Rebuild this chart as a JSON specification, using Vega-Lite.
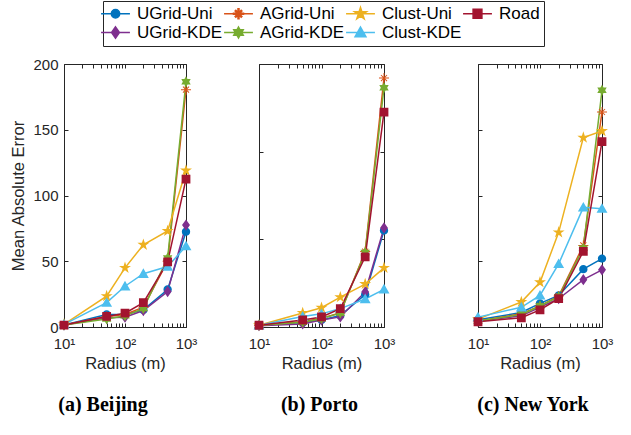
{
  "$schema": "https://vega.github.io/schema/vega-lite/v6.json",
  "padding": {"left": 10, "top": 0, "right": 5, "bottom": 5},
  "datasets": {
    "d": [
      {"city": "Beijing", "method": "UGrid-Uni", "radius": 10, "mae": 1.5},
      {"city": "Beijing", "method": "UGrid-Uni", "radius": 50, "mae": 9.5},
      {"city": "Beijing", "method": "UGrid-Uni", "radius": 100, "mae": 9.5},
      {"city": "Beijing", "method": "UGrid-Uni", "radius": 200, "mae": 13},
      {"city": "Beijing", "method": "UGrid-Uni", "radius": 500, "mae": 28.5},
      {"city": "Beijing", "method": "UGrid-Uni", "radius": 1000, "mae": 72.5},
      {"city": "Beijing", "method": "UGrid-KDE", "radius": 10, "mae": 1.5},
      {"city": "Beijing", "method": "UGrid-KDE", "radius": 50, "mae": 7},
      {"city": "Beijing", "method": "UGrid-KDE", "radius": 100, "mae": 7.5},
      {"city": "Beijing", "method": "UGrid-KDE", "radius": 200, "mae": 12.5},
      {"city": "Beijing", "method": "UGrid-KDE", "radius": 500, "mae": 27},
      {"city": "Beijing", "method": "UGrid-KDE", "radius": 1000, "mae": 77.5},
      {"city": "Beijing", "method": "AGrid-Uni", "radius": 10, "mae": 1.5},
      {"city": "Beijing", "method": "AGrid-Uni", "radius": 50, "mae": 8},
      {"city": "Beijing", "method": "AGrid-Uni", "radius": 100, "mae": 9.5},
      {"city": "Beijing", "method": "AGrid-Uni", "radius": 200, "mae": 15},
      {"city": "Beijing", "method": "AGrid-Uni", "radius": 500, "mae": 50},
      {"city": "Beijing", "method": "AGrid-Uni", "radius": 1000, "mae": 180.5},
      {"city": "Beijing", "method": "AGrid-KDE", "radius": 10, "mae": 1.5},
      {"city": "Beijing", "method": "AGrid-KDE", "radius": 50, "mae": 6},
      {"city": "Beijing", "method": "AGrid-KDE", "radius": 100, "mae": 8.5},
      {"city": "Beijing", "method": "AGrid-KDE", "radius": 200, "mae": 14},
      {"city": "Beijing", "method": "AGrid-KDE", "radius": 500, "mae": 52.5},
      {"city": "Beijing", "method": "AGrid-KDE", "radius": 1000, "mae": 186.5},
      {"city": "Beijing", "method": "Clust-Uni", "radius": 10, "mae": 2},
      {"city": "Beijing", "method": "Clust-Uni", "radius": 50, "mae": 23.5},
      {"city": "Beijing", "method": "Clust-Uni", "radius": 100, "mae": 45},
      {"city": "Beijing", "method": "Clust-Uni", "radius": 200, "mae": 62.5},
      {"city": "Beijing", "method": "Clust-Uni", "radius": 500, "mae": 73},
      {"city": "Beijing", "method": "Clust-Uni", "radius": 1000, "mae": 119},
      {"city": "Beijing", "method": "Clust-KDE", "radius": 10, "mae": 2},
      {"city": "Beijing", "method": "Clust-KDE", "radius": 50, "mae": 18.5},
      {"city": "Beijing", "method": "Clust-KDE", "radius": 100, "mae": 31},
      {"city": "Beijing", "method": "Clust-KDE", "radius": 200, "mae": 40.5},
      {"city": "Beijing", "method": "Clust-KDE", "radius": 500, "mae": 46},
      {"city": "Beijing", "method": "Clust-KDE", "radius": 1000, "mae": 61.5},
      {"city": "Beijing", "method": "Road", "radius": 10, "mae": 1.5},
      {"city": "Beijing", "method": "Road", "radius": 50, "mae": 8},
      {"city": "Beijing", "method": "Road", "radius": 100, "mae": 10.5},
      {"city": "Beijing", "method": "Road", "radius": 200, "mae": 18.5},
      {"city": "Beijing", "method": "Road", "radius": 500, "mae": 49.5},
      {"city": "Beijing", "method": "Road", "radius": 1000, "mae": 112.5},

      {"city": "Porto", "method": "UGrid-Uni", "radius": 10, "mae": 2},
      {"city": "Porto", "method": "UGrid-Uni", "radius": 50, "mae": 5},
      {"city": "Porto", "method": "UGrid-Uni", "radius": 100, "mae": 8},
      {"city": "Porto", "method": "UGrid-Uni", "radius": 200, "mae": 13},
      {"city": "Porto", "method": "UGrid-Uni", "radius": 500, "mae": 37},
      {"city": "Porto", "method": "UGrid-Uni", "radius": 1000, "mae": 110},
      {"city": "Porto", "method": "UGrid-KDE", "radius": 10, "mae": 1.5},
      {"city": "Porto", "method": "UGrid-KDE", "radius": 50, "mae": 3.5},
      {"city": "Porto", "method": "UGrid-KDE", "radius": 100, "mae": 8},
      {"city": "Porto", "method": "UGrid-KDE", "radius": 200, "mae": 11.5},
      {"city": "Porto", "method": "UGrid-KDE", "radius": 500, "mae": 40},
      {"city": "Porto", "method": "UGrid-KDE", "radius": 1000, "mae": 113},
      {"city": "Porto", "method": "AGrid-Uni", "radius": 10, "mae": 2},
      {"city": "Porto", "method": "AGrid-Uni", "radius": 50, "mae": 6},
      {"city": "Porto", "method": "AGrid-Uni", "radius": 100, "mae": 10},
      {"city": "Porto", "method": "AGrid-Uni", "radius": 200, "mae": 16},
      {"city": "Porto", "method": "AGrid-Uni", "radius": 500, "mae": 86},
      {"city": "Porto", "method": "AGrid-Uni", "radius": 1000, "mae": 284},
      {"city": "Porto", "method": "AGrid-KDE", "radius": 10, "mae": 2},
      {"city": "Porto", "method": "AGrid-KDE", "radius": 50, "mae": 5.5},
      {"city": "Porto", "method": "AGrid-KDE", "radius": 100, "mae": 9.5},
      {"city": "Porto", "method": "AGrid-KDE", "radius": 200, "mae": 16},
      {"city": "Porto", "method": "AGrid-KDE", "radius": 500, "mae": 85},
      {"city": "Porto", "method": "AGrid-KDE", "radius": 1000, "mae": 273},
      {"city": "Porto", "method": "Clust-Uni", "radius": 10, "mae": 2},
      {"city": "Porto", "method": "Clust-Uni", "radius": 50, "mae": 16},
      {"city": "Porto", "method": "Clust-Uni", "radius": 100, "mae": 22},
      {"city": "Porto", "method": "Clust-Uni", "radius": 200, "mae": 34},
      {"city": "Porto", "method": "Clust-Uni", "radius": 500, "mae": 49},
      {"city": "Porto", "method": "Clust-Uni", "radius": 1000, "mae": 67.5},
      {"city": "Porto", "method": "Clust-KDE", "radius": 10, "mae": 2},
      {"city": "Porto", "method": "Clust-KDE", "radius": 50, "mae": 12},
      {"city": "Porto", "method": "Clust-KDE", "radius": 100, "mae": 15},
      {"city": "Porto", "method": "Clust-KDE", "radius": 200, "mae": 21},
      {"city": "Porto", "method": "Clust-KDE", "radius": 500, "mae": 32},
      {"city": "Porto", "method": "Clust-KDE", "radius": 1000, "mae": 43},
      {"city": "Porto", "method": "Road", "radius": 10, "mae": 2},
      {"city": "Porto", "method": "Road", "radius": 50, "mae": 8},
      {"city": "Porto", "method": "Road", "radius": 100, "mae": 11.5},
      {"city": "Porto", "method": "Road", "radius": 200, "mae": 21},
      {"city": "Porto", "method": "Road", "radius": 500, "mae": 80},
      {"city": "Porto", "method": "Road", "radius": 1000, "mae": 245},

      {"city": "New York", "method": "UGrid-Uni", "radius": 10, "mae": 5.5},
      {"city": "New York", "method": "UGrid-Uni", "radius": 50, "mae": 11},
      {"city": "New York", "method": "UGrid-Uni", "radius": 100, "mae": 18},
      {"city": "New York", "method": "UGrid-Uni", "radius": 200, "mae": 24},
      {"city": "New York", "method": "UGrid-Uni", "radius": 500, "mae": 44},
      {"city": "New York", "method": "UGrid-Uni", "radius": 1000, "mae": 52},
      {"city": "New York", "method": "UGrid-KDE", "radius": 10, "mae": 4.5},
      {"city": "New York", "method": "UGrid-KDE", "radius": 50, "mae": 8.5},
      {"city": "New York", "method": "UGrid-KDE", "radius": 100, "mae": 15},
      {"city": "New York", "method": "UGrid-KDE", "radius": 200, "mae": 21.5},
      {"city": "New York", "method": "UGrid-KDE", "radius": 500, "mae": 36},
      {"city": "New York", "method": "UGrid-KDE", "radius": 1000, "mae": 43.5},
      {"city": "New York", "method": "AGrid-Uni", "radius": 10, "mae": 4.5},
      {"city": "New York", "method": "AGrid-Uni", "radius": 50, "mae": 10},
      {"city": "New York", "method": "AGrid-Uni", "radius": 100, "mae": 16},
      {"city": "New York", "method": "AGrid-Uni", "radius": 200, "mae": 23.5},
      {"city": "New York", "method": "AGrid-Uni", "radius": 500, "mae": 62},
      {"city": "New York", "method": "AGrid-Uni", "radius": 1000, "mae": 163.5},
      {"city": "New York", "method": "AGrid-KDE", "radius": 10, "mae": 4.5},
      {"city": "New York", "method": "AGrid-KDE", "radius": 50, "mae": 9.5},
      {"city": "New York", "method": "AGrid-KDE", "radius": 100, "mae": 16},
      {"city": "New York", "method": "AGrid-KDE", "radius": 200, "mae": 23},
      {"city": "New York", "method": "AGrid-KDE", "radius": 500, "mae": 60},
      {"city": "New York", "method": "AGrid-KDE", "radius": 1000, "mae": 180},
      {"city": "New York", "method": "Clust-Uni", "radius": 10, "mae": 6},
      {"city": "New York", "method": "Clust-Uni", "radius": 50, "mae": 19},
      {"city": "New York", "method": "Clust-Uni", "radius": 100, "mae": 34},
      {"city": "New York", "method": "Clust-Uni", "radius": 200, "mae": 72},
      {"city": "New York", "method": "Clust-Uni", "radius": 500, "mae": 144},
      {"city": "New York", "method": "Clust-Uni", "radius": 1000, "mae": 149},
      {"city": "New York", "method": "Clust-KDE", "radius": 10, "mae": 7.5},
      {"city": "New York", "method": "Clust-KDE", "radius": 50, "mae": 15},
      {"city": "New York", "method": "Clust-KDE", "radius": 100, "mae": 24},
      {"city": "New York", "method": "Clust-KDE", "radius": 200, "mae": 48},
      {"city": "New York", "method": "Clust-KDE", "radius": 500, "mae": 91},
      {"city": "New York", "method": "Clust-KDE", "radius": 1000, "mae": 90},
      {"city": "New York", "method": "Road", "radius": 10, "mae": 4},
      {"city": "New York", "method": "Road", "radius": 50, "mae": 7},
      {"city": "New York", "method": "Road", "radius": 100, "mae": 13},
      {"city": "New York", "method": "Road", "radius": 200, "mae": 21.5},
      {"city": "New York", "method": "Road", "radius": 500, "mae": 57.5},
      {"city": "New York", "method": "Road", "radius": 1000, "mae": 141}
    ]
  },
  "config": {
    "font": "Liberation Sans",
    "view": {"stroke": "#262626", "strokeWidth": 1},
    "axis": {
      "domain": false, "grid": false, "tickColor": "#262626", "tickSize": -4, "tickWidth": 1,
      "labelColor": "#262626", "labelFont": "Liberation Sans", "labelFontSize": 15,
      "titleFont": "Liberation Sans", "titleFontSize": 16.5, "titleFontWeight": "normal", "titleColor": "#262626"
    },
    "title": {"font": "Liberation Serif", "fontSize": 20, "fontWeight": "bold", "color": "black", "orient": "bottom", "offset": 23}
  },
  "hconcat": [
    {
      "hconcat": [
        {
          "width": 122, "height": 263,
          "title": {"text": "(a) Beijing", "dx": -22},
          "data": {"name": "d"},
          "transform": [{"filter": "datum.city === 'Beijing'"}],
          "layer": [
            {
              "mark": {"type": "line", "strokeWidth": 1.5},
              "encoding": {
                "x": {"field": "radius", "type": "quantitative", "scale": {"type": "log", "domain": [10, 1000]},
                      "axis": {"orient": "bottom", "title": "Radius (m)", "values": [10,20,30,40,50,60,70,80,90,100,200,300,400,500,600,700,800,900,1000],
                               "labelExpr": "datum.value === 10 ? '10¹' : datum.value === 100 ? '10²' : datum.value === 1000 ? '10³' : ''",
                               "labelFlush": false, "labelOverlap": false, "labelPadding": 13, "titlePadding": 4}},
                "y": {"field": "mae", "type": "quantitative", "scale": {"domain": [0, 200]},
                      "axis": {"orient": "left", "title": "Mean Absolute Error", "values": [0, 50, 100, 150, 200], "labelPadding": 10, "titlePadding": 6}},
                "color": {"field": "method", "type": "nominal",
                          "scale": {"domain": ["UGrid-Uni", "AGrid-Uni", "Clust-Uni", "Road", "UGrid-KDE", "AGrid-KDE", "Clust-KDE"],
                                    "range": ["#0072BD", "#D95319", "#EDB120", "#A2142F", "#7E2F8E", "#77AC30", "#4DBEEE"]},
                          "legend": {"title": null, "orient": "none", "legendX": 39, "legendY": -63, "direction": "horizontal", "columns": 4,
                                     "columnPadding": -2, "rowPadding": 1, "padding": 4, "strokeColor": "#262626", "fillColor": "white",
                                     "labelFont": "Liberation Sans", "labelFontSize": 17, "labelColor": "black", "labelOffset": 13,
                                     "symbolSize": 70, "symbolStrokeWidth": 1.5, "symbolOpacity": 1, "gridAlign": "each"}}
              }
            },
            {
              "mark": {"type": "point", "filled": true, "size": 70, "opacity": 1, "strokeWidth": 0},
              "encoding": {
                "x": {"field": "radius", "type": "quantitative", "scale": {"type": "log", "domain": [10, 1000]}, "axis": null},
                "y": {"field": "mae", "type": "quantitative", "scale": {"domain": [0, 200]}, "axis": null},
                "color": {"field": "method", "type": "nominal",
                          "legend": {"title": null, "orient": "none", "legendX": 39, "legendY": -63, "direction": "horizontal", "columns": 4,
                                     "columnPadding": -2, "rowPadding": 1, "padding": 4, "strokeColor": "#262626", "fillColor": "white",
                                     "labelFont": "Liberation Sans", "labelFontSize": 17, "labelColor": "black", "labelOffset": 13,
                                     "symbolSize": 70, "symbolStrokeWidth": 1.5, "symbolOpacity": 1, "gridAlign": "each"}},
                "stroke": {"field": "method", "type": "nominal",
                           "scale": {"domain": ["UGrid-Uni", "AGrid-Uni", "Clust-Uni", "Road", "UGrid-KDE", "AGrid-KDE", "Clust-KDE"],
                                     "range": ["#0072BD", "#D95319", "#EDB120", "#A2142F", "#7E2F8E", "#77AC30", "#4DBEEE"]},
                           "legend": {"title": null, "orient": "none", "legendX": 39, "legendY": -63, "direction": "horizontal", "columns": 4,
                                     "columnPadding": -2, "rowPadding": 1, "padding": 4, "strokeColor": "#262626", "fillColor": "white",
                                     "labelFont": "Liberation Sans", "labelFontSize": 17, "labelColor": "black", "labelOffset": 13,
                                     "symbolSize": 70, "symbolStrokeWidth": 1.5, "symbolOpacity": 1, "gridAlign": "each"}},
                "shape": {"field": "method", "type": "nominal",
                          "scale": {"domain": ["UGrid-Uni", "AGrid-Uni", "Clust-Uni", "Road", "UGrid-KDE", "AGrid-KDE", "Clust-KDE"],
                                    "range": ["M-3.45,0L3.45,0 M0,-1A1,1,0,0,1,0,1A1,1,0,0,1,0,-1Z",
                                              "M-3.45,0L3.45,0 M-0.12,-1.2L0.12,-1.2L0.12,1.2L-0.12,1.2Z M1.2,-0.12L1.2,0.12L-1.2,0.12L-1.2,-0.12Z M0.636,-0.806L0.806,-0.636L-0.636,0.806L-0.806,0.636Z M-0.806,-0.636L-0.636,-0.806L0.806,0.636L0.636,0.806Z",
                                              "M-3.45,0L3.45,0 M0,-1.5L0.337,-0.464L1.427,-0.464L0.545,0.177L0.882,1.214L0,0.573L-0.882,1.214L-0.545,0.177L-1.427,-0.464L-0.337,-0.464Z",
                                              "M-3.45,0L3.45,0 M-1.05,-1.05L1.05,-1.05L1.05,1.05L-1.05,1.05Z",
                                              "M-3.45,0L3.45,0 M0,-1.35L0.95,0L0,1.35L-0.95,0Z",
                                              "M-3.45,0L3.45,0 M0,-1.3L0.375,-0.65L1.126,-0.65L0.75,0L1.126,0.65L0.375,0.65L0,1.3L-0.375,0.65L-1.126,0.65L-0.75,0L-1.126,-0.65L-0.375,-0.65Z",
                                              "M-3.45,0L3.45,0 M0,-1.3L1.3,1L-1.3,1Z"]},
                          "legend": {"title": null, "orient": "none", "legendX": 39, "legendY": -63, "direction": "horizontal", "columns": 4,
                                     "columnPadding": -2, "rowPadding": 1, "padding": 4, "strokeColor": "#262626", "fillColor": "white",
                                     "labelFont": "Liberation Sans", "labelFontSize": 17, "labelColor": "black", "labelOffset": 13,
                                     "symbolSize": 70, "symbolStrokeWidth": 1.5, "symbolOpacity": 1, "gridAlign": "each"}}
              }
            },
            {
              "mark": {"type": "point", "opacity": 0},
              "encoding": {
                "x": {"field": "radius", "type": "quantitative", "scale": {"type": "log", "domain": [10, 1000]},
                      "axis": {"orient": "top", "title": null, "labels": false, "values": [10,20,30,40,50,60,70,80,90,100,200,300,400,500,600,700,800,900,1000]}},
                "y": {"field": "mae", "type": "quantitative", "scale": {"domain": [0, 200]},
                      "axis": {"orient": "right", "title": null, "labels": false, "values": [0, 50, 100, 150, 200]}}
              }
            }
          ],
          "resolve": {"axis": {"x": "independent", "y": "independent"}}
        },
        {
          "width": 125, "height": 263,
          "title": {"text": "(b) Porto", "dx": -2},
          "data": {"name": "d"},
          "transform": [{"filter": "datum.city === 'Porto'"}],
          "layer": [
            {
              "mark": {"type": "line", "strokeWidth": 1.5},
              "encoding": {
                "x": {"field": "radius", "type": "quantitative", "scale": {"type": "log", "domain": [10, 1000]},
                      "axis": {"orient": "bottom", "title": "Radius (m)", "values": [10,20,30,40,50,60,70,80,90,100,200,300,400,500,600,700,800,900,1000],
                               "labelExpr": "datum.value === 10 ? '10¹' : datum.value === 100 ? '10²' : datum.value === 1000 ? '10³' : ''",
                               "labelFlush": false, "labelOverlap": false, "labelPadding": 13, "titlePadding": 4}},
                "y": {"field": "mae", "type": "quantitative", "scale": {"domain": [0, 300]},
                      "axis": {"orient": "left", "title": null, "labels": false, "values": [0, 100, 200, 300]}},
                "color": {"field": "method", "type": "nominal", "legend": null}
              }
            },
            {
              "mark": {"type": "point", "filled": true, "size": 70, "opacity": 1, "strokeWidth": 0},
              "encoding": {
                "x": {"field": "radius", "type": "quantitative", "scale": {"type": "log", "domain": [10, 1000]}, "axis": null},
                "y": {"field": "mae", "type": "quantitative", "scale": {"domain": [0, 300]}, "axis": null},
                "color": {"field": "method", "type": "nominal", "legend": null},
                "stroke": {"field": "method", "type": "nominal", "legend": null},
                "shape": {"field": "method", "type": "nominal", "legend": null}
              }
            },
            {
              "mark": {"type": "point", "opacity": 0},
              "encoding": {
                "x": {"field": "radius", "type": "quantitative", "scale": {"type": "log", "domain": [10, 1000]},
                      "axis": {"orient": "top", "title": null, "labels": false, "values": [10,20,30,40,50,60,70,80,90,100,200,300,400,500,600,700,800,900,1000]}},
                "y": {"field": "mae", "type": "quantitative", "scale": {"domain": [0, 300]},
                      "axis": {"orient": "right", "title": null, "labels": false, "values": [0, 100, 200, 300]}}
              }
            }
          ],
          "resolve": {"axis": {"x": "independent", "y": "independent"}}
        }
      ],
      "spacing": 43
    },
    {
      "width": 124, "height": 263,
      "title": {"text": "(c) New York", "dx": -7},
      "data": {"name": "d"},
      "transform": [{"filter": "datum.city === 'New York'"}],
      "layer": [
        {
          "mark": {"type": "line", "strokeWidth": 1.5},
          "encoding": {
            "x": {"field": "radius", "type": "quantitative", "scale": {"type": "log", "domain": [10, 1000]},
                  "axis": {"orient": "bottom", "title": "Radius (m)", "values": [10,20,30,40,50,60,70,80,90,100,200,300,400,500,600,700,800,900,1000],
                           "labelExpr": "datum.value === 10 ? '10¹' : datum.value === 100 ? '10²' : datum.value === 1000 ? '10³' : ''",
                           "labelFlush": false, "labelOverlap": false, "labelPadding": 13, "titlePadding": 4}},
            "y": {"field": "mae", "type": "quantitative", "scale": {"domain": [0, 200]},
                  "axis": {"orient": "left", "title": null, "labels": false, "values": [0, 50, 100, 150, 200]}},
            "color": {"field": "method", "type": "nominal", "legend": null}
          }
        },
        {
          "mark": {"type": "point", "filled": true, "size": 70, "opacity": 1, "strokeWidth": 0},
          "encoding": {
            "x": {"field": "radius", "type": "quantitative", "scale": {"type": "log", "domain": [10, 1000]}, "axis": null},
            "y": {"field": "mae", "type": "quantitative", "scale": {"domain": [0, 200]}, "axis": null},
            "color": {"field": "method", "type": "nominal", "legend": null},
            "stroke": {"field": "method", "type": "nominal", "legend": null},
            "shape": {"field": "method", "type": "nominal", "legend": null}
          }
        },
        {
          "mark": {"type": "point", "opacity": 0},
          "encoding": {
            "x": {"field": "radius", "type": "quantitative", "scale": {"type": "log", "domain": [10, 1000]},
                  "axis": {"orient": "top", "title": null, "labels": false, "values": [10,20,30,40,50,60,70,80,90,100,200,300,400,500,600,700,800,900,1000]}},
            "y": {"field": "mae", "type": "quantitative", "scale": {"domain": [0, 200]},
                  "axis": {"orient": "right", "title": null, "labels": false, "values": [0, 50, 100, 150, 200]}}
          }
        }
      ],
      "resolve": {"axis": {"x": "independent", "y": "independent"}}
    }
  ],
  "spacing": 64
}
